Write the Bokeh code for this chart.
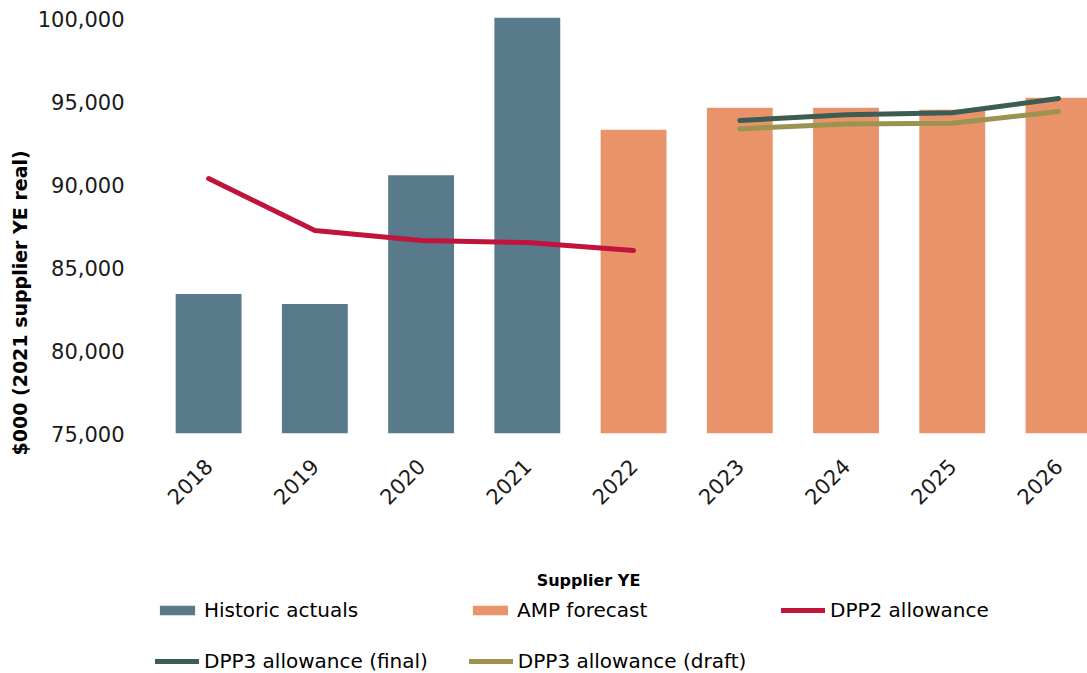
from math import pi

from bokeh.embed import file_html
from bokeh.layouts import column
from bokeh.models import (ColumnDataSource, FixedTicker, Label, Legend,
                          LegendItem, NumeralTickFormatter, Range1d, Title)
from bokeh.plotting import figure
from bokeh.resources import INLINE

# Supplier years shown on the category axis
years = ["2018", "2019", "2020", "2021", "2022", "2023", "2024", "2025", "2026"]

# Historic actual expenditure ($000, 2021 supplier YE real)
historic_years = ["2018", "2019", "2020", "2021"]
historic_values = [83400, 82800, 90550, 100050]

# Asset management plan forecast
forecast_years = ["2022", "2023", "2024", "2025", "2026"]
forecast_values = [93300, 94620, 94620, 94500, 95220]

# DPP2 allowance
dpp2_years = ["2018", "2019", "2020", "2021", "2022"]
dpp2_values = [90360, 87230, 86630, 86500, 86020]

# DPP3 allowances, final and draft
dpp3_years = ["2023", "2024", "2025", "2026"]
dpp3_final = [93860, 94200, 94320, 95180]
dpp3_draft = [93350, 93650, 93690, 94400]

y_ticks = [75000, 80000, 85000, 90000, 95000, 100000]

FONT = "DejaVu Sans"
HIST_COLOR = "#587a8a"
AMP_COLOR = "#e8936a"
DPP2_COLOR = "#c0143c"
FINAL_COLOR = "#3c5d53"
DRAFT_COLOR = "#9a9450"

pos = {y: i for i, y in enumerate(years)}

p = figure(
    width=1087, height=560,
    output_backend="svg", toolbar_location=None,
    x_range=Range1d(-0.5, 8.273), y_range=Range1d(75000, 100482),
    min_border_left=155, min_border_right=0,
    min_border_top=10, min_border_bottom=127,
)
p.background_fill_color = "white"
p.border_fill_color = "white"
p.outline_line_color = None
p.xgrid.grid_line_color = None
p.ygrid.grid_line_color = None

hist_src = ColumnDataSource(dict(x=[pos[y] for y in historic_years], top=historic_values))
amp_src = ColumnDataSource(dict(x=[pos[y] for y in forecast_years], top=forecast_values))
dpp2_src = ColumnDataSource(dict(x=[pos[y] for y in dpp2_years], y=dpp2_values))
final_src = ColumnDataSource(dict(x=[pos[y] for y in dpp3_years], y=dpp3_final))
draft_src = ColumnDataSource(dict(x=[pos[y] for y in dpp3_years], y=dpp3_draft))

bar_style = dict(bottom=75000, width=0.62, line_color=None)
line_style = dict(line_width=5, line_join="round", line_cap="round")


def draw_series(fig):
    """Draw the five series on a figure and return their renderers."""
    return dict(
        hist=fig.vbar(x="x", top="top", source=hist_src, fill_color=HIST_COLOR, **bar_style),
        amp=fig.vbar(x="x", top="top", source=amp_src, fill_color=AMP_COLOR, **bar_style),
        dpp2=fig.line(x="x", y="y", source=dpp2_src, line_color=DPP2_COLOR, **line_style),
        draft=fig.line(x="x", y="y", source=draft_src, line_color=DRAFT_COLOR, **line_style),
        final=fig.line(x="x", y="y", source=final_src, line_color=FINAL_COLOR, **line_style),
    )


draw_series(p)

# axes
p.xaxis.ticker = FixedTicker(ticks=list(range(len(years))))
p.xaxis.major_label_overrides = {i: y for i, y in enumerate(years)}
p.xaxis.major_label_orientation = pi / 4
p.xaxis.major_label_standoff = 23
p.yaxis.ticker = FixedTicker(ticks=y_ticks)
p.yaxis.formatter = NumeralTickFormatter(format="0,0")
p.yaxis.major_label_standoff = 25
for ax in (p.xaxis, p.yaxis):
    ax.axis_line_color = None
    ax.major_tick_line_color = None
    ax.minor_tick_line_color = None
    ax.major_label_text_font = FONT
    ax.major_label_text_font_size = "21px"
    ax.major_label_text_color = "#1a1a1a"

# y-axis title as a side-panel title so it can be shifted along the axis
p.add_layout(Title(text="$000 (2021 supplier YE real)", align="left",
                   offset=-22, standoff=8, text_font=FONT,
                   text_font_style="bold", text_font_size="19px",
                   text_color="black"), "left")

# strip underneath the chart with the x-axis title and the legend;
# its series sit outside the visible range and only feed the legend
lg = figure(width=1087, height=113, output_backend="svg", toolbar_location=None,
            x_range=Range1d(-100, -99), y_range=Range1d(-100, -99),
            x_axis_type=None, y_axis_type=None,
            min_border_left=155, min_border_right=0,
            min_border_top=0, min_border_bottom=0)
lg.outline_line_color = None
lg.grid.visible = False
keys = draw_series(lg)

lg.add_layout(Label(x=433, y=93, x_units="screen", y_units="screen",
                    text="Supplier YE", text_align="center",
                    text_baseline="middle", text_font=FONT,
                    text_font_style="bold", text_font_size="16px",
                    text_color="black"))

legend_style = dict(
    orientation="horizontal", glyph_width=44, glyph_height=12,
    label_standoff=5, padding=0, margin=0, border_line_color=None,
    background_fill_alpha=0, label_text_font=FONT,
    label_text_font_size="20px", label_text_color="black",
)
leg1 = Legend(items=[LegendItem(label="Historic actuals", renderers=[keys["hist"]]),
                     LegendItem(label="AMP forecast", renderers=[keys["amp"]]),
                     LegendItem(label="DPP2 allowance", renderers=[keys["dpp2"]])],
              location=(0, 51), label_width=258, spacing=6, **legend_style)
leg2 = Legend(items=[LegendItem(label="DPP3 allowance (final)", renderers=[keys["final"]]),
                     LegendItem(label="DPP3 allowance (draft)", renderers=[keys["draft"]])],
              location=(0, 0), spacing=41, **legend_style)
lg.add_layout(leg1, "center")
lg.add_layout(leg2, "center")

layout = column(p, lg, spacing=0)
open("out.html", "w").write(file_html(layout, INLINE))
